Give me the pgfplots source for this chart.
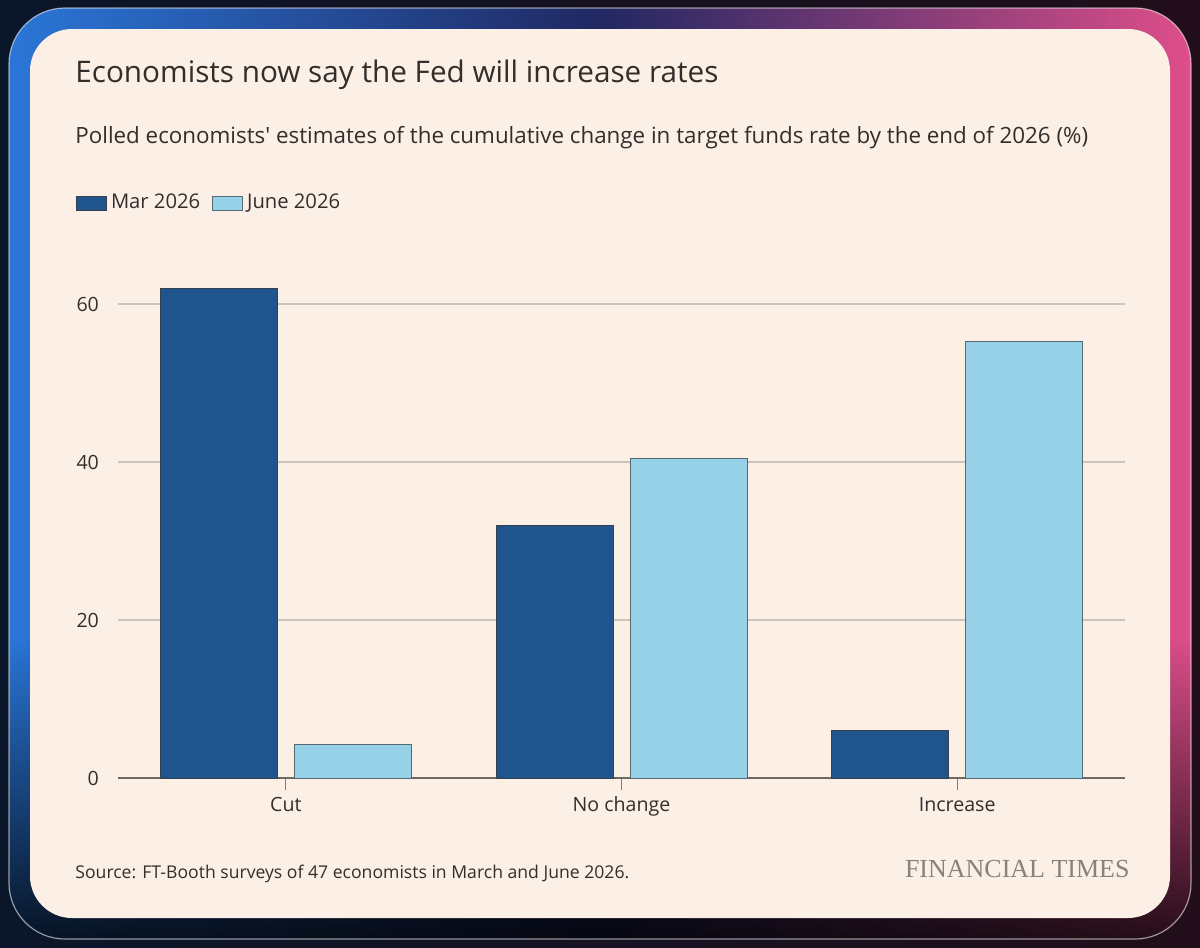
\documentclass[border=0pt]{standalone}
\usepackage{pgfplots}
\pgfplotsset{compat=1.18}
\usetikzlibrary{fadings}
\usepackage{fontspec}
\setmainfont{Open Sans}
\newfontfamily\ftserif{Liberation Serif}
\definecolor{bgL}{RGB}{10,22,42}
\definecolor{bgR}{RGB}{34,14,26}
\definecolor{frameL}{RGB}{42,118,215}
\definecolor{frameM}{RGB}{32,40,98}
\definecolor{frameR}{RGB}{222,78,138}
\definecolor{cream}{RGB}{251,239,230}
\definecolor{darkblue}{RGB}{32,84,140}
\definecolor{lightblue}{RGB}{151,209,232}
\definecolor{edge}{RGB}{55,65,78}
\definecolor{edgeL}{RGB}{85,105,115}
\definecolor{textcol}{RGB}{50,46,44}
\definecolor{gridcol}{RGB}{207,196,187}
\definecolor{zerocol}{RGB}{110,104,99}
\definecolor{tickcol}{RGB}{130,124,118}
\definecolor{ftgray}{RGB}{138,129,122}
\begin{document}
\begin{tikzpicture}
\begin{scope}[x=0.5pt,y=-0.5pt]
\useasboundingbox (0,0) rectangle (1200,948);
\shade[left color=bgL, right color=bgR] (0,0) rectangle (1200,948);
\shade[left color=frameL, right color=frameR, middle color=frameM, rounded corners=28pt] (9,8) rectangle (1191,939);
\begin{scope}
\clip[rounded corners=28pt] (9,8) rectangle (1191,939);
\fill[black, fill opacity=0.85, path fading=north] (0,640) rectangle (1200,948);
\end{scope}
\draw[white, draw opacity=0.55, line width=0.6pt, rounded corners=28pt] (9,8) rectangle (1191,939);
\fill[cream, rounded corners=21pt] (30,29) rectangle (1170,918);
\node[anchor=base west, inner sep=0pt, text=textcol, font=\fontsize{14.85}{17}\selectfont] at (75,82) {Economists now say the Fed will increase rates};
\node[anchor=base west, inner sep=0pt, text=textcol, font=\fontsize{11.18}{13}\selectfont] at (75,143) {Polled economists\textquotesingle{} estimates of the cumulative change in target funds rate by the end of 2026 (\%)};
\node[anchor=base west, inner sep=0pt, text=textcol, font=\fontsize{8.8}{11}\selectfont] at (75,878) {Source: FT-Booth surveys of 47 economists in March and June 2026.};
\node[anchor=base east, inner sep=0pt, text=ftgray, font=\ftserif\fontsize{13}{15}\selectfont] at (1130,877) {FINANCIAL TIMES};
\end{scope}
\begin{axis}[
  at={(59pt,-389pt)}, anchor=south west,
  scale only axis, width=503.5pt, height=256.75pt,
  xmin=-0.5, xmax=2.5, ymin=0, ymax=65,
  ybar=8.5pt, bar width=58.5pt,
  axis x line*=bottom, axis y line*=left,
  x axis line style={draw=zerocol, line width=0.8pt},
  y axis line style={draw=none},
  xtick={0,1,2}, xticklabels={Cut,No change,Increase},
  ytick={0,20,40,60},
  ymajorgrids, grid style={gridcol, line width=0.6pt},
  major tick length=6pt, tick align=outside,
  xtick style={draw=tickcol, line width=0.6pt}, ytick style={draw=none},
  tick label style={font=\fontsize{9.8}{12}\selectfont, text=textcol},
  /pgf/number format/assume math mode=true,
  legend columns=2,
  legend image code/.code={\draw[#1] (0pt,-3.5pt) rectangle (15pt,3.5pt);},
  legend style={at={(axis description cs:-0.0417,1.1198)}, anchor=west, draw=none, fill=none, inner sep=0pt, outer sep=0pt, font=\fontsize{10.1}{12}\selectfont, text=textcol, legend cell align=left, /tikz/every even column/.append style={column sep=4pt}},
]
\addplot[fill=darkblue, draw=edge, line width=0.5pt] coordinates {(0,62.0) (1,32.0) (2,6.0)};
\addplot[fill=lightblue, draw=edgeL, line width=0.5pt] coordinates {(0,4.2) (1,40.5) (2,55.3)};
\legend{Mar 2026, June 2026}
\end{axis}
\end{tikzpicture}
\end{document}
